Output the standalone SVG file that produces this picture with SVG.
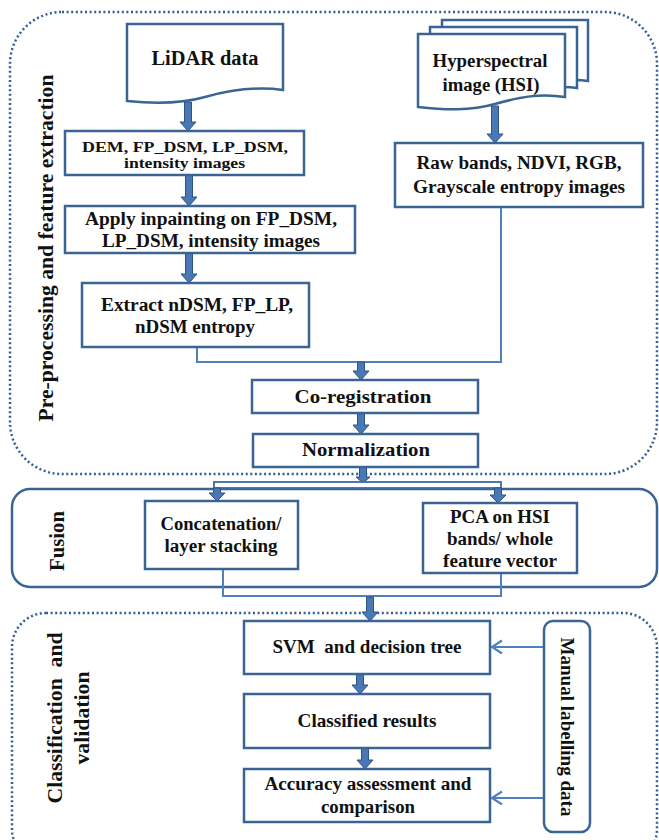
<svg xmlns="http://www.w3.org/2000/svg" width="659" height="840" viewBox="0 0 659 840">
<style>
text{font-family:"Liberation Serif","Times New Roman",serif;font-weight:bold;fill:#111;text-anchor:middle}
.box{fill:#fff;stroke:#3a6494;stroke-width:2.5}
.dot{fill:none;stroke:#2f5f96;stroke-width:2.5;stroke-dasharray:2 2.6}
.thin{fill:none;stroke:#4f81bd;stroke-width:2}
.tarrow{fill:#4a78b5;stroke:#2e5387;stroke-width:1}
.f15{font-size:15px}.f18{font-size:18px}.f19{font-size:19px}.f20{font-size:20px}.f21{font-size:21px}
</style>
<defs>
<marker id="chev" markerUnits="userSpaceOnUse" markerWidth="14" markerHeight="16" refX="11" refY="7" orient="auto">
<path d="M1,0.5 L11,7 L1,13.5" fill="none" stroke="#4f81bd" stroke-width="2.2"/>
</marker>
</defs>

<g id="groups">
<rect class="dot" x="10" y="12" width="647" height="462" rx="52"/>
<rect x="12" y="489" width="645" height="98" rx="18" fill="none" stroke="#3a6494" stroke-width="2.5"/>
<rect class="dot" x="12" y="613" width="645" height="250" rx="34"/>
<text class="f21" transform="translate(53,248) rotate(-90)" textLength="347" lengthAdjust="spacingAndGlyphs">Pre-processing  and  feature extraction</text>
<text class="f20" transform="translate(64,541) rotate(-90)" textLength="60" lengthAdjust="spacingAndGlyphs">Fusion</text>
<text class="f20" transform="translate(62,718) rotate(-90)" textLength="171" lengthAdjust="spacingAndGlyphs" xml:space="preserve">Classification  and</text>
<text class="f20" transform="translate(89,718) rotate(-90)" textLength="93" lengthAdjust="spacingAndGlyphs">validation</text>
</g>

<g id="connectors">
<path class="thin" d="M197,347 V362 H501 V207"/>
<path class="thin" d="M223,569 V596 H501 V573"/>
<path class="thin" d="M544,647 H492" marker-end="url(#chev)"/>
<path class="thin" d="M544,798 H492" marker-end="url(#chev)"/>
<path class="tarrow" d="M184.5,102 V122 H180 L188,131 L196,122 H191.5 V102 Z"/>
<path class="tarrow" d="M185.5,175 V197 H181 L189,206 L197,197 H192.5 V175 Z"/>
<path class="tarrow" d="M185.5,253 V274 H181 L189,283 L197,274 H192.5 V253 Z"/>
<path class="tarrow" d="M491.5,106 V134 H487 L495,143 L503,134 H498.5 V106 Z"/>
<path class="tarrow" d="M357.5,362 V371 H353 L361,380 L369,371 H364.5 V362 Z"/>
<path class="tarrow" d="M357.5,413 V425 H353 L361,434 L369,425 H364.5 V413 Z"/>
<path class="tarrow" d="M359.5,467 V477 H356 L363,483 L370,477 H366.5 V467 Z"/>
<rect x="214" y="482" width="287" height="6" fill="#fff" stroke="#3b6aa6" stroke-width="1.8"/>
<path class="tarrow" d="M213.5,488 V493 H209 L217,501 L225,493 H220.5 V488 Z"/>
<path class="tarrow" d="M494.5,488 V495 H490 L498,503 L506,495 H501.5 V488 Z"/>
<path class="tarrow" d="M366.5,597 V612 H362 L370,621 L378,612 H373.5 V597 Z"/>
<path class="tarrow" d="M356.5,674 V685 H352 L360,694 L368,685 H363.5 V674 Z"/>
<path class="tarrow" d="M361.5,748 V760 H357 L365,769 L373,760 H368.5 V748 Z"/>
</g>

<g id="lidar">
<path class="box" d="M127,24 H283 V90 C255,86 230,90 205,97 C180,104 155,104 127,101 Z"/>
<text class="f20" x="205" y="65" textLength="107" lengthAdjust="spacingAndGlyphs">LiDAR data</text>
</g>
<g id="dem">
<rect class="box" x="65" y="131" width="239" height="44"/>
<text class="f15" x="185" y="152" textLength="206" lengthAdjust="spacingAndGlyphs">DEM, FP_DSM, LP_DSM,</text>
<text class="f15" x="184.5" y="168" textLength="121" lengthAdjust="spacingAndGlyphs">intensity images</text>
</g>
<g id="inpainting">
<rect class="box" x="65" y="206" width="290" height="47"/>
<text class="f18" x="211" y="225" textLength="252" lengthAdjust="spacingAndGlyphs">Apply inpainting on FP_DSM,</text>
<text class="f18" x="211" y="247" textLength="218" lengthAdjust="spacingAndGlyphs">LP_DSM, intensity images</text>
</g>
<g id="extract">
<rect class="box" x="82" y="283" width="227" height="64"/>
<text class="f18" x="197" y="311" textLength="192" lengthAdjust="spacingAndGlyphs">Extract nDSM, FP_LP,</text>
<text class="f18" x="195" y="333" textLength="120" lengthAdjust="spacingAndGlyphs">nDSM entropy</text>
</g>
<g id="hsi">
<path class="box" d="M442,20 H588 V81 C575,79 565,80 555,83 L442,83 Z"/>
<path class="box" d="M430,27 H577 V88 C563,86 552,87 540,90 L430,90 Z"/>
<path class="box" d="M418,34 H565 V97 C540,93 520,97 495,104 C470,111 445,110 418,107 Z"/>
<text class="f18" x="490" y="67" textLength="115" lengthAdjust="spacingAndGlyphs">Hyperspectral</text>
<text class="f18" x="491" y="91" textLength="97" lengthAdjust="spacingAndGlyphs">image (HSI)</text>
</g>
<g id="rawbands">
<rect class="box" x="395" y="143" width="248" height="64"/>
<text class="f18" x="519" y="169" textLength="205" lengthAdjust="spacingAndGlyphs">Raw bands, NDVI, RGB,</text>
<text class="f18" x="519" y="193" textLength="212" lengthAdjust="spacingAndGlyphs">Grayscale entropy images</text>
</g>
<g id="coreg">
<rect class="box" x="252" y="380" width="226" height="33"/>
<text class="f19" x="363" y="403" textLength="137" lengthAdjust="spacingAndGlyphs">Co-registration</text>
</g>
<g id="norm">
<rect class="box" x="253" y="434" width="225" height="33"/>
<text class="f19" x="366" y="456" textLength="128" lengthAdjust="spacingAndGlyphs">Normalization</text>
</g>
<g id="concat">
<rect class="box" x="145" y="501" width="153" height="68"/>
<text class="f18" x="221" y="530" textLength="121" lengthAdjust="spacingAndGlyphs">Concatenation/</text>
<text class="f18" x="221" y="552" textLength="113" lengthAdjust="spacingAndGlyphs">layer stacking</text>
</g>
<g id="pca">
<rect class="box" x="423" y="503" width="154" height="70"/>
<text class="f18" x="500" y="523" textLength="100" lengthAdjust="spacingAndGlyphs">PCA on HSI</text>
<text class="f18" x="500" y="545" textLength="106" lengthAdjust="spacingAndGlyphs">bands/ whole</text>
<text class="f18" x="500" y="567" textLength="114" lengthAdjust="spacingAndGlyphs">feature vector</text>
</g>
<g id="svm">
<rect class="box" x="244" y="621" width="246" height="53"/>
<text class="f19" x="367" y="653" textLength="189" lengthAdjust="spacingAndGlyphs" xml:space="preserve">SVM  and decision tree</text>
</g>
<g id="classified">
<rect class="box" x="244" y="694" width="246" height="54"/>
<text class="f19" x="367" y="727" textLength="139" lengthAdjust="spacingAndGlyphs">Classified results</text>
</g>
<g id="accuracy">
<rect class="box" x="244" y="769" width="246" height="53"/>
<text class="f18" x="368" y="790" textLength="207" lengthAdjust="spacingAndGlyphs">Accuracy assessment and</text>
<text class="f18" x="368" y="813" textLength="94" lengthAdjust="spacingAndGlyphs">comparison</text>
</g>
<g id="manual">
<rect class="box" x="544" y="621" width="46" height="211" rx="9"/>
<text class="f19" transform="translate(561,727) rotate(90)" textLength="179" lengthAdjust="spacingAndGlyphs">Manual labelling data</text>
</g>
</svg>
